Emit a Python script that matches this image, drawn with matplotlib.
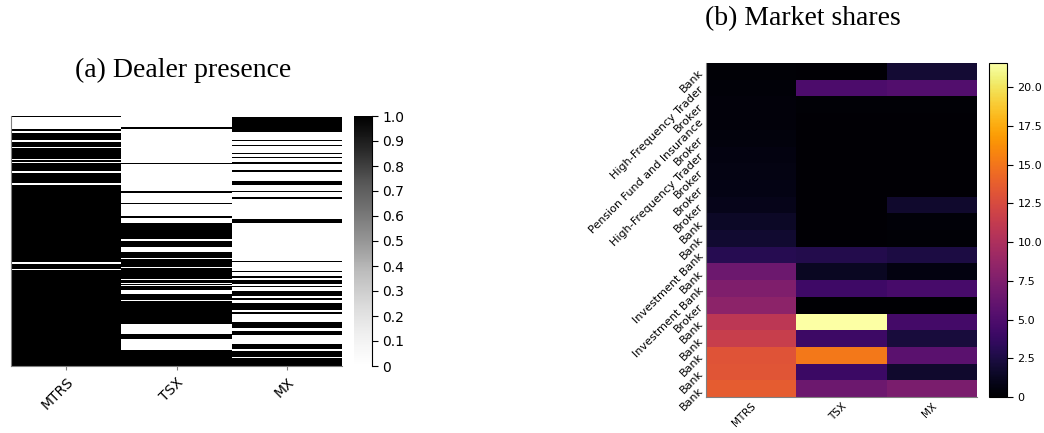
import numpy as np
import matplotlib.pyplot as plt

markets = ["MTRS", "TSX", "MX"]

# dealer presence (1 = active), run-length coded from the top row: (value, dealers)
mtrs_runs = [(1, 1), (0, 12), (1, 2), (0, 2), (1, 7), (0, 2), (1, 5), (0, 1),
             (1, 11), (0, 1), (1, 2), (0, 1), (1, 8), (0, 2), (1, 10), (0, 2),
             (1, 77), (0, 2), (1, 5), (0, 1), (1, 96)]
tsx_runs = [(0, 11), (1, 2), (0, 34), (1, 1), (0, 27), (1, 2), (0, 10), (1, 1),
            (0, 12), (1, 2), (0, 5), (1, 16), (0, 2), (1, 6), (0, 5), (1, 6),
            (0, 1), (1, 8), (0, 1), (1, 11), (0, 1), (1, 3), (0, 1), (1, 1),
            (0, 1), (1, 4), (0, 4), (1, 6), (0, 1), (1, 23), (0, 10), (1, 5),
            (0, 11), (1, 16)]
mx_runs = [(0, 1), (1, 15), (0, 8), (1, 1), (0, 4), (1, 1), (0, 7), (1, 1),
           (0, 3), (1, 1), (0, 4), (1, 2), (0, 6), (1, 2), (0, 9), (1, 4),
           (0, 6), (1, 1), (0, 5), (1, 2), (0, 20), (1, 4), (0, 38), (1, 1),
           (0, 9), (1, 1), (0, 4), (1, 2), (0, 2), (1, 4), (0, 2), (1, 1),
           (0, 4), (1, 5), (0, 2), (1, 2), (0, 3), (1, 7), (0, 2), (1, 2),
           (0, 8), (1, 6), (0, 3), (1, 4), (0, 9), (1, 5), (0, 2), (1, 6),
           (0, 1), (1, 8)]

# market shares (%) of the top dealers
dealer_types = ["Bank", "High-Frequency Trader", "Broker", "Pension Fund and Insurance",
                "Broker", "High-Frequency Trader", "Broker", "Broker", "Broker", "Bank",
                "Bank", "Investment Bank", "Bank", "Investment Bank", "Broker",
                "Bank", "Bank", "Bank", "Bank", "Bank"]
share_mtrs = [0.2, 0.3, 0.4, 0.4, 0.5, 0.6, 0.7, 0.8, 1.0, 1.5,
              1.8, 3.0, 6.5, 7.5, 8.2, 10.8, 11.5, 13.1, 13.2, 13.6]
share_tsx = [0.1, 4.8, 0.2, 0.1, 0.1, 0.1, 0.1, 0.1, 0.1, 0.1,
             0.1, 2.8, 1.3, 4.2, 0.0, 21.55, 4.1, 15.1, 4.0, 6.5]
share_mx = [2.0, 5.2, 0.2, 0.1, 0.1, 0.1, 0.1, 0.1, 1.7, 0.3,
            0.2, 2.5, 0.6, 4.6, 0.0, 4.4, 2.2, 5.6, 1.7, 7.3]


def expand(runs):
    return np.concatenate([np.full(n, v) for v, n in runs])


presence = np.column_stack([expand(r) for r in (mtrs_runs, tsx_runs, mx_runs)])
shares = np.column_stack([share_mtrs, share_tsx, share_mx])

W, H = 1044, 433
fig = plt.figure(figsize=(W / 100, H / 100), dpi=100)


def box(x0, y0, x1, y1):
    # pixel box (from top-left) -> figure fraction
    return [x0 / W, 1 - y1 / H, (x1 - x0) / W, (y1 - y0) / H]


spine_col = "#808080"

# (a) dealer presence
ax_a = fig.add_axes(box(11, 116, 342, 366))
cax_a = fig.add_axes(box(354, 116, 372, 366))
m = ax_a.pcolormesh(presence, cmap="Greys", vmin=0, vmax=1)
ax_a.set_ylim(len(presence), 0)
ax_a.set_xticks(np.arange(3) + 0.5)
ax_a.set_xticklabels(markets, rotation=45, ha="right", rotation_mode="anchor", fontsize=10)
ax_a.set_yticks([])
ax_a.tick_params(axis="x", length=3, color=spine_col)
for s in ["top", "right"]:
    ax_a.spines[s].set_visible(False)
for s in ["left", "bottom"]:
    ax_a.spines[s].set_color(spine_col)

cb_a = fig.colorbar(m, cax=cax_a)
cb_a.outline.set_visible(False)
cax_a.spines["right"].set_visible(True)
cb_a.set_ticks(np.linspace(0, 1, 11))
cb_a.set_ticklabels(["0"] + [f"{v:.1f}" for v in np.linspace(0.1, 1, 10)])
cax_a.tick_params(labelsize=10, length=4)

fig.text(183 / W, 1 - 70 / H, "(a) Dealer presence", ha="center", va="center",
         fontsize=20, family="Liberation Serif")

# (b) market shares
ax_b = fig.add_axes(box(706, 63, 977, 397))
cax_b = fig.add_axes(box(989, 63, 1007, 397))
m2 = ax_b.pcolormesh(shares, cmap="inferno", vmin=0, vmax=shares.max())
ax_b.set_ylim(len(shares), 0)
ax_b.set_xticks(np.arange(3) + 0.5)
ax_b.set_xticklabels(markets, rotation=45, ha="right", rotation_mode="anchor", fontsize=7.5)
ax_b.set_yticks(np.arange(len(dealer_types)) + 0.5)
ax_b.set_yticklabels(dealer_types, rotation=45, ha="right", va="center",
                     rotation_mode="anchor", fontsize=8)
ax_b.tick_params(length=0, pad=3)
for s in ["top", "right"]:
    ax_b.spines[s].set_visible(False)
for s in ["left", "bottom"]:
    ax_b.spines[s].set_color(spine_col)

cb_b = fig.colorbar(m2, cax=cax_b)
cb_b.outline.set_linewidth(0.8)
cb_b.set_ticks(np.arange(0, 21, 2.5))
cb_b.set_ticklabels(["0"] + [f"{v:.1f}" for v in np.arange(2.5, 21, 2.5)])
cax_b.tick_params(labelsize=8, length=4)

fig.text(803 / W, 1 - 19 / H, "(b) Market shares", ha="center", va="center",
         fontsize=20, family="Liberation Serif")

fig.savefig("out.png", dpi=100)
